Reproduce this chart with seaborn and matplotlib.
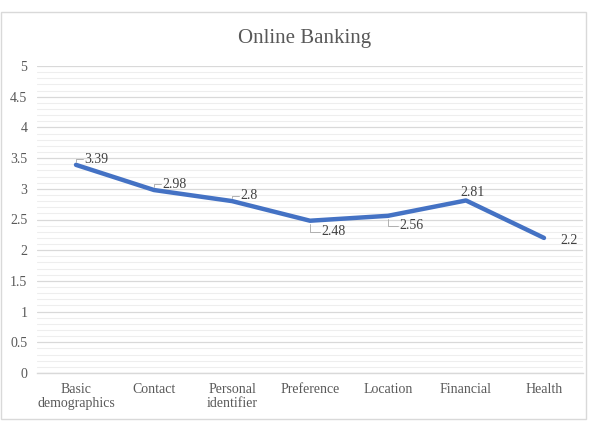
import matplotlib
matplotlib.use("Agg")
import matplotlib.pyplot as plt
import seaborn as sns
import pandas as pd
from matplotlib.patches import Rectangle
from matplotlib.ticker import MultipleLocator

categories = ["Basic\ndemographics", "Contact", "Personal\nidentifier", "Preference",
              "Location", "Financial", "Health"]
values = [3.39, 2.98, 2.8, 2.48, 2.56, 2.81, 2.2]
labels = ["3.39", "2.98", "2.8", "2.48", "2.56", "2.81", "2.2"]
title = "Online Banking"

sns.set_style("white")
plt.rcParams['font.family'] = ['Liberation Serif', 'DejaVu Serif']

W, H = 609, 426
fig = plt.figure(figsize=(W / 100, H / 100), dpi=100)
fig.patch.set_facecolor("white")
# outer chart border
fig.patches.append(Rectangle((1 / W, 1 - 419 / H), 585 / W, 407 / H, transform=fig.transFigure,
                             fill=False, edgecolor="#d9d9d9", linewidth=1))

left, right, top, bottom = 37, 583, 66, 373
ax = fig.add_axes([left / W, 1 - bottom / H, (right - left) / W, (bottom - top) / H])

df = pd.DataFrame({"cat": categories, "val": values})
df["x"] = range(len(categories))
sns.lineplot(data=df, x="x", y="val", ax=ax, color="#4472C4", linewidth=3.2, sort=False)

ax.set_xlim(-0.5, len(categories) - 0.5)
ax.set_ylim(0, 5)
ax.yaxis.set_major_locator(MultipleLocator(0.5))
ax.yaxis.set_minor_locator(MultipleLocator(0.1))
ax.grid(which="major", axis="y", color="#d9d9d9", linewidth=0.9)
ax.grid(which="minor", axis="y", color="#eeeeee", linewidth=0.8)
ax.set_axisbelow(True)
for s in ["top", "right", "left"]:
    ax.spines[s].set_visible(False)
ax.spines["bottom"].set_color("#d9d9d9")
ax.spines["bottom"].set_linewidth(1.0)

ax.set_xticks(range(len(categories)))
ax.set_xticklabels(categories, fontsize=10, color="#595959", linespacing=1.15)
ax.set_yticks([i * 0.5 for i in range(11)])
ax.set_yticklabels([f"{i*0.5:g}" for i in range(11)], fontsize=10, color="#595959")
ax.tick_params(axis="both", which="both", length=0)
ax.tick_params(axis="x", pad=7)
ax.tick_params(axis="y", pad=7)
ax.set_xlabel("")
ax.set_ylabel("")

fig.text(305 / W, 1 - 38 / H, title, ha="center", va="center", fontsize=15, color="#595959")

# data labels: (dx, dy) in points, leader flag
offsets = [(6, 4, True), (6, 4, True), (6, 4, True), (8, -8, True), (8, -7, True), (5, 6, False), (12, -2, False)]
for i, (v, lab) in enumerate(zip(values, labels)):
    dx, dy, flag = offsets[i]
    ax.annotate(lab, (i, v), xytext=(dx, dy), textcoords="offset points",
                ha="left" if flag or i == 6 else "center", va="center", fontsize=10, color="#404040")
    if flag:
        ax.annotate("", (i, v), xytext=(dx - 1, dy), textcoords="offset points",
                    arrowprops=dict(arrowstyle="-", color="#a6a6a6", lw=0.6,
                                    connectionstyle="angle,angleA=0,angleB=90,rad=0",
                                    shrinkA=0, shrinkB=2))

fig.savefig("out.png", dpi=100, facecolor="white")
